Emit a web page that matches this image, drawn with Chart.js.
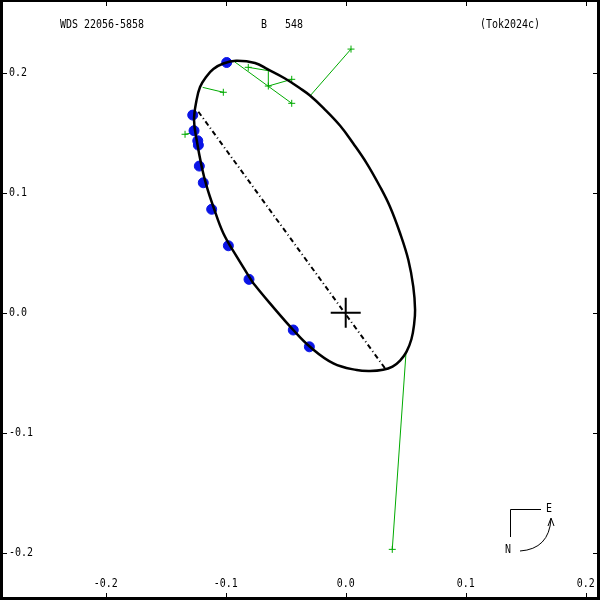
<!DOCTYPE html>
<html>
<head>
<meta charset="utf-8">
<script src="https://cdn.jsdelivr.net/npm/chart.js@4.4.1/dist/chart.umd.min.js"></script>
<style>
  html, body { margin: 0; padding: 0; background: #fff; }
  #wrap { width: 600px; height: 600px; position: relative; }
</style>
</head>
<body>
<div id="wrap"><canvas id="orbitChart"></canvas></div>
<script>
// Orbit plot, WDS 22056-5858

const starId = 'WDS 22056-5858';
const pairName = 'B   548';
const orbitRef = '(Tok2024c)';

const xTicks = [-0.2, -0.1, 0.0, 0.1, 0.2];
const xTickLabels = ['-0.2', '-0.1', '0.0', '0.1', '0.2'];
const yTicks = [0.2, 0.1, 0.0, -0.1, -0.2];
const yTickLabels = ['0.2', '0.1', '0.0', '-0.1', '-0.2'];

// apparent orbit
const orbitX = [-0.0770, -0.0908, -0.1020, -0.1103, -0.1158, -0.1200, -0.1242, -0.1264, -0.1243, -0.1214,
                -0.1164, -0.1103, -0.1020, -0.0914, -0.0756, -0.0648, -0.0506, -0.0381, -0.0298, -0.0187,
                -0.0048, 0.0063, 0.0175, 0.0286, 0.0369, 0.0453, 0.0522, 0.0563, 0.0578, 0.0569,
                0.0548, 0.0507, 0.0453, 0.0390, 0.0311, 0.0203, 0.0092, -0.0103, -0.0298, -0.0437,
                -0.0631, -0.0770];
const orbitY = [0.0246, 0.0468, 0.0663, 0.0884, 0.1051, 0.1218, 0.1440, 0.1607, 0.1773, 0.1882,
                0.1965, 0.2032, 0.2078, 0.2100, 0.2082, 0.2028, 0.1953, 0.1871, 0.1811, 0.1708,
                0.1561, 0.1411, 0.1246, 0.1051, 0.0884, 0.0663, 0.0440, 0.0218, 0.0023, -0.0102,
                -0.0218, -0.0323, -0.0398, -0.0448, -0.0475, -0.0485, -0.0477, -0.0421, -0.0283, -0.0143,
                0.0079, 0.0246];

// line of nodes
const nodesX = [-0.1228, 0.0328];
const nodesY = [0.1676, -0.0463];

// interferometric measures (blue)
const specX = [-0.0992, -0.1275, -0.1264, -0.1233, -0.1228, -0.1220, -0.1187, -0.1117, -0.0978, -0.0806, -0.0437, -0.0303];
const specY = [0.2086, 0.1648, 0.1518, 0.1434, 0.1398, 0.1223, 0.1084, 0.0863, 0.0559, 0.0279, -0.0143, -0.0283];

// micrometer measures (green) and where their lines end
const microX = [0.0044, -0.0812, -0.0645, -0.0450, -0.0450, -0.1020, -0.1339, 0.0388];
const microY = [0.2198, 0.2046, 0.1890, 0.1946, 0.1746, 0.1838, 0.1488, -0.1971];
const microEndX = [-0.0298, -0.0645, -0.0645, -0.0645, -0.0923, -0.1192, -0.1273, 0.0503];
const microEndY = [0.1807, 0.2018, 0.2018, 0.1890, 0.2090, 0.1879, 0.1501, -0.0324];

const xMin = -0.2881, xMax = 0.2119;
const yMin = -0.2393, yMax = 0.2607;

const GREEN = 'rgb(0,170,0)';
const BLUE = 'rgb(10,20,230)';

function pts(xs, ys) {
    return xs.map((x, i) => ({ x: x, y: ys[i] }));
}

function monoText(ctx, str, x, y, align) {
    ctx.save();
    ctx.font = '12px "DejaVu Sans Mono"';
    const sx = 0.83;
    const w = ctx.measureText(str).width * sx;
    const left = align === 'center' ? x - w / 2 : x;
    ctx.translate(left, y);
    ctx.scale(sx, 1);
    ctx.fillStyle = '#000';
    ctx.textAlign = 'left';
    ctx.textBaseline = 'middle';
    ctx.fillText(str, 0, 0);
    ctx.restore();
}

// frame, ticks, labels, titles and the N/E compass
const framePlugin = {
    id: 'frame',
    afterDraw(chart) {
        const ctx = chart.ctx;
        const sx = chart.scales.x, sy = chart.scales.y;
        ctx.save();
        ctx.fillStyle = '#000';
        ctx.fillRect(0, 0, 3, 600);
        ctx.fillRect(0, 0, 600, 2);
        ctx.fillRect(597, 0, 3, 600);
        ctx.fillRect(0, 597, 600, 3);

        ctx.strokeStyle = '#000';
        ctx.lineWidth = 1;
        ctx.beginPath();
        xTicks.forEach((v, i) => {
            const px = Math.round(sx.getPixelForValue(v)) + 0.5;
            ctx.moveTo(px, 2); ctx.lineTo(px, 6);
            ctx.moveTo(px, 593); ctx.lineTo(px, 597);
        });
        yTicks.forEach((v, i) => {
            const py = Math.round(sy.getPixelForValue(v)) + 0.5;
            ctx.moveTo(3, py); ctx.lineTo(7, py);
            ctx.moveTo(593, py); ctx.lineTo(597, py);
        });
        ctx.stroke();

        xTicks.forEach((v, i) => monoText(ctx, xTickLabels[i], sx.getPixelForValue(v), 584, 'center'));
        yTicks.forEach((v, i) => monoText(ctx, yTickLabels[i], 9, sy.getPixelForValue(v), 'left'));

        monoText(ctx, starId, 60, 25, 'left');
        monoText(ctx, pairName, 261, 25, 'left');
        monoText(ctx, orbitRef, 480, 25, 'left');

        // compass
        ctx.beginPath();
        ctx.moveTo(541, 509.5); ctx.lineTo(510.5, 509.5); ctx.lineTo(510.5, 537);
        ctx.stroke();
        ctx.beginPath();
        ctx.moveTo(520, 551);
        ctx.quadraticCurveTo(549, 549, 551, 519);
        ctx.moveTo(548, 526); ctx.lineTo(551, 518); ctx.lineTo(554, 526);
        ctx.stroke();
        monoText(ctx, 'E', 546, 509, 'left');
        monoText(ctx, 'N', 505, 550, 'left');
        ctx.restore();
    }
};

const microLines = microX.map((x, i) => ({
    data: [{ x: x, y: microY[i] }, { x: microEndX[i], y: microEndY[i] }],
    showLine: true,
    borderColor: GREEN,
    borderWidth: 1,
    pointRadius: 0,
    order: 6
}));

new Chart(document.getElementById('orbitChart'), {
    type: 'scatter',
    data: {
        datasets: [
            {
                data: [{ x: 0, y: 0 }],
                pointStyle: 'cross',
                pointRadius: 15,
                borderColor: '#000',
                borderWidth: 2,
                order: 0
            },
            {
                data: pts(orbitX, orbitY),
                showLine: true,
                tension: 0.4,
                borderColor: '#000',
                borderWidth: 2.5,
                pointRadius: 0,
                order: 1
            },
            {
                data: pts(nodesX, nodesY),
                showLine: true,
                borderColor: '#000',
                borderWidth: 2,
                borderDash: [5, 3, 1, 3],
                pointRadius: 0,
                order: 2
            },
            {
                data: pts(specX, specY),
                pointStyle: 'circle',
                pointRadius: 5,
                backgroundColor: BLUE,
                borderColor: BLUE,
                borderWidth: 1,
                order: 3
            },
            {
                data: pts(microX, microY),
                pointStyle: 'cross',
                pointRadius: 3.5,
                borderColor: GREEN,
                borderWidth: 1,
                order: 4
            },
            ...microLines
        ]
    },
    options: {
        responsive: true,
        maintainAspectRatio: false,
        animation: false,
        layout: { padding: 0, autoPadding: false },
        plugins: {
            legend: { display: false },
            tooltip: { enabled: false }
        },
        scales: {
            x: { type: 'linear', min: xMin, max: xMax, display: false },
            y: { type: 'linear', min: yMin, max: yMax, display: false }
        }
    },
    plugins: [framePlugin]
});
</script>
</body>
</html>
